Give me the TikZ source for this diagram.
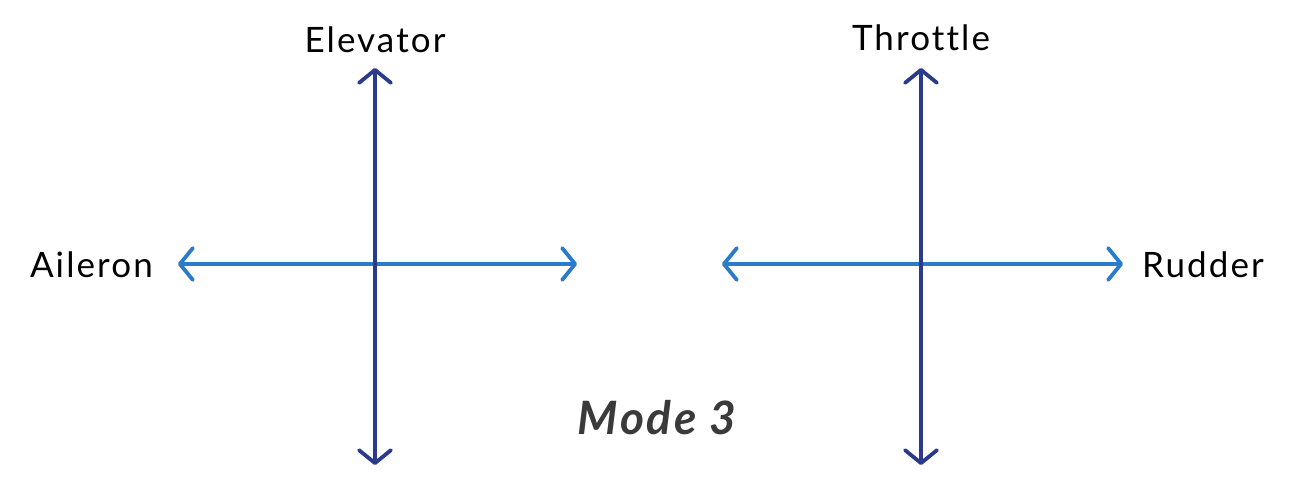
\documentclass[tikz,border=0pt]{standalone}
\usepackage{fontspec}
\setmainfont{Lato}[LetterSpace=6,Ligatures={NoCommon,NoRequired,NoContextual}]
\usetikzlibrary{arrows.meta}
\definecolor{navy}{HTML}{2B3A8A}
\definecolor{skyb}{HTML}{2A7BCB}
\definecolor{modegray}{HTML}{3A3A3A}
\tikzset{
  axisarrow/.style={line width=3.8pt, {Straight Barb[length=13pt,width=32pt,line cap=round,line join=round]}-{Straight Barb[length=13pt,width=32pt,line cap=round,line join=round]}},
  vert/.style={axisarrow, draw=navy},
  horiz/.style={axisarrow, draw=skyb},
  lbl/.style={inner sep=0pt, font=\fontsize{35}{38}\selectfont, text=black},
}
\begin{document}
\begin{tikzpicture}[x=1pt,y=-1pt]
\useasboundingbox (0,0) rectangle (1300,503);
% left stick
\coordinate (lt) at (375,68);
\coordinate (lb) at (375,465);
\coordinate (ll) at (178,264);
\coordinate (lr) at (577,264);
\draw[horiz] (ll) -- (lr);
\draw[vert] (lb) -- (lt);
% right stick
\coordinate (rt) at (921,68);
\coordinate (rb) at (921,465);
\coordinate (rl) at (722,264);
\coordinate (rr) at (1123,264);
\draw[horiz] (rl) -- (rr);
\draw[vert] (rb) -- (rt);
% labels
\node[lbl] (elev) at (375,40) {Elevator};
\node[lbl] (thr) at (921,38) {Throttle};
\node[lbl, anchor=east] (ail) at (153,265) {Aileron};
\node[lbl, anchor=west] (rud) at (1142,265) {Rudder};
\node[lbl, text=modegray, font=\fontsize{46}{48}\selectfont\itshape\bfseries] (mode) at (657,418) {Mode 3};
\end{tikzpicture}
\end{document}
